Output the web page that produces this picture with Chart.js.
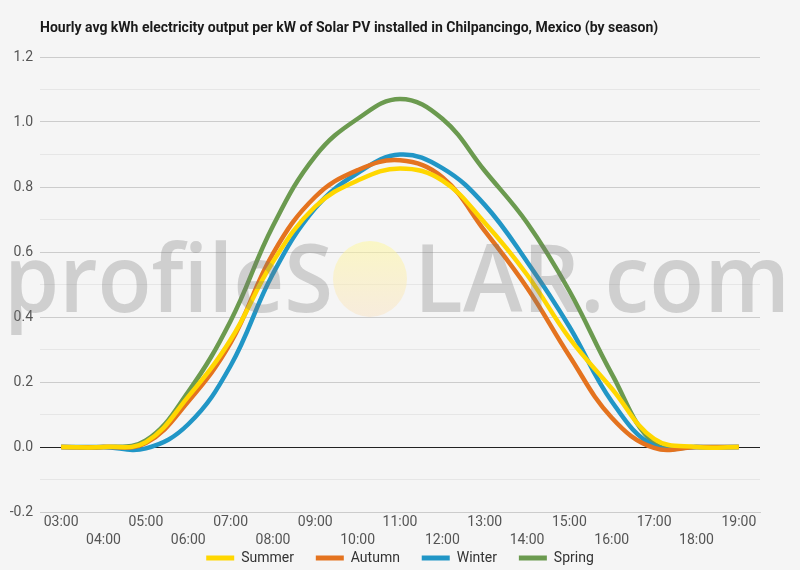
<!DOCTYPE html>
<html>
<head>
<meta charset="utf-8">
<script src="https://cdn.jsdelivr.net/npm/chart.js@4.4.1/dist/chart.umd.min.js"></script>
<style>
html,body{margin:0;padding:0;background:#f5f5f5;}
#wrap{width:800px;height:570px;position:relative;}
</style>
</head>
<body>
<div id="wrap"><canvas id="c" width="800" height="570"></canvas></div>
<script>
const hours = ['03:00','04:00','05:00','06:00','07:00','08:00','09:00','10:00','11:00','12:00','13:00','14:00','15:00','16:00','17:00','18:00','19:00'];
const summer = [0,0,0.015,0.155,0.33,0.57,0.74,0.82,0.857,0.82,0.69,0.53,0.335,0.18,0.025,0,0];
const autumn = [0,0,0.012,0.14,0.32,0.595,0.77,0.852,0.882,0.83,0.665,0.49,0.28,0.09,-0.003,0,0];
const winter = [0,0,-0.004,0.07,0.25,0.533,0.735,0.843,0.90,0.858,0.745,0.57,0.37,0.14,0.003,0,0];
const spring = [0,0,0.02,0.17,0.388,0.68,0.895,1.01,1.071,1.01,0.85,0.69,0.48,0.225,0.012,0,0];
const seriesNames = ['Summer','Autumn','Winter','Spring'];
const seriesColors = ['#ffd700','#e4731f','#2196c6','#6b9a4f'];
const titleText = 'Hourly avg kWh electricity output per kW of Solar PV installed in Chilpancingo, Mexico (by season)';

const bgPlugin = {
  id:'bg',
  beforeDraw(chart){
    const ctx = chart.ctx;
    ctx.save();
    ctx.fillStyle = '#f5f5f5';
    ctx.fillRect(0,0,chart.width,chart.height);
    ctx.fillStyle = '#1a1a1a';
    ctx.font = 'bold 14px Roboto';
    ctx.textBaseline = 'middle';
    ctx.textAlign = 'left';
    ctx.fillText(titleText, 40, 28);
    ctx.restore();
  }
};

const watermark = {
  id:'wm',
  afterDatasetsDraw(chart){
    const ctx = chart.ctx;
    ctx.save();
    ctx.font = '600 94px "Open Sans"';
    ctx.textBaseline = 'alphabetic';
    ctx.fillStyle = 'rgba(120,120,120,0.30)';
    function fit(t, x0, x1, base){
      const w = ctx.measureText(t).width;
      ctx.save();
      ctx.translate(x0, base);
      ctx.scale((x1-x0)/w, 1);
      ctx.fillText(t, 0, 0);
      ctx.restore();
    }
    fit('profileS', 4, 333, 312);
    fit('LAR.com', 414, 790, 312);
    const g = ctx.createLinearGradient(0,241,0,317);
    g.addColorStop(0,'rgba(255,248,150,0.50)');
    g.addColorStop(1,'rgba(250,225,190,0.45)');
    ctx.fillStyle = g;
    ctx.beginPath();
    ctx.ellipse(370,279,37,38,0,0,Math.PI*2);
    ctx.fill();
    ctx.restore();
  }
};

const datasets = [summer, autumn, winter, spring].map((d,i)=>({
  label: seriesNames[i],
  data: d,
  borderColor: seriesColors[i],
  backgroundColor: seriesColors[i],
  borderWidth: 4.5,
  pointRadius: 0,
  tension: 0.4,
  fill: false
}));

new Chart(document.getElementById('c'), {
  type:'line',
  data:{labels:hours, datasets},
  plugins:[bgPlugin, watermark],
  options:{
    responsive:false,
    animation:false,
    devicePixelRatio:1,
    layout:{padding:{top:57,right:0,left:0,bottom:-5}},
    plugins:{
      title:{display:false},
      tooltip:{enabled:false},
      legend:{
        position:'bottom',
        labels:{
          boxWidth:28, boxHeight:5, padding:1,
          color:'#333', font:{family:'Roboto', size:14},
          generateLabels(chart){
            const n = chart.data.datasets.length;
            return chart.data.datasets.map((ds,i)=>({
              text: ds.label + (i < n-1 ? '      ' : ''),
              fillStyle: ds.borderColor, strokeStyle: ds.borderColor,
              lineWidth:0, hidden:false, datasetIndex:i, fontColor:'#333'
            }));
          }
        }
      }
    },
    scales:{
      x:{
        offset:true,
        grid:{display:false, drawTicks:false},
        border:{display:true, color:'#cccccc'},
        ticks:{
          autoSkip:false, maxRotation:0, minRotation:0, padding:1,
          color:'#555', font:{family:'Roboto', size:14, lineHeight:1.3},
          callback(v, i){ const l = hours[i]; return i%2===0 ? l : ['', l]; }
        },
        afterFit(s){ s.height = 38; }
      },
      y:{
        min:-0.2, max:1.2,
        ticks:{
          stepSize:0.1, padding:7, color:'#555', font:{family:'Roboto', size:14},
          callback(v){ const k = Math.round(v*10); return k%2===0 ? (k/10).toFixed(1) : ''; }
        },
        grid:{
          drawTicks:false,
          color(c){ const k = Math.round(c.tick.value*10); if(k===0) return '#222'; return k%2===0 ? '#cccccc' : '#e6e6e6'; },
          lineWidth:1
        },
        border:{display:false},
        afterFit(s){ s.width = 40; }
      },
      yRight:{
        position:'right',
        display:true,
        min:-0.2, max:1.2,
        ticks:{display:false},
        grid:{display:false, drawTicks:false},
        border:{display:false},
        afterFit(s){ s.width = 40; }
      }
    }
  }
});
</script>
</body>
</html>
